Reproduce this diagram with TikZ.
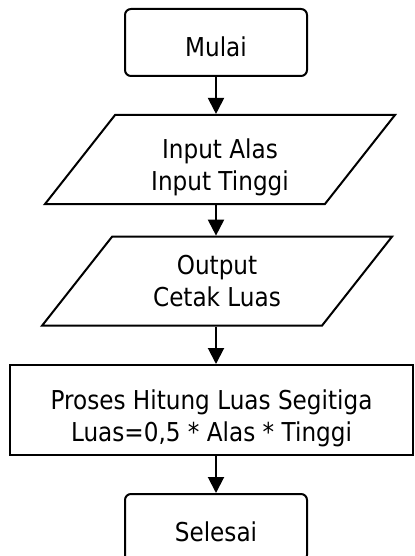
\documentclass[tikz,border=0pt]{standalone}
\usepackage{fontspec}
\setmainfont{DejaVu Sans}[FakeStretch=0.89]
\usetikzlibrary{shapes.geometric}
\usetikzlibrary{arrows.meta}

\begin{document}
\begin{tikzpicture}[x=0.75pt, y=-0.75pt,
	font=\fontsize{19.5}{24}\selectfont,
	terminal/.style={rectangle, rounded corners=4.5pt, draw, line width=1.5pt, minimum width=136.5pt, minimum height=50.25pt, text height=21pt, text depth=0pt},
	io/.style={trapezium, trapezium left angle=51.8, trapezium right angle=128.2, trapezium stretches body, draw, line width=1.5pt, minimum width=262.5pt, minimum height=66.75pt, align=center, text depth=0pt},
	process/.style={rectangle, draw, line width=1.5pt, minimum width=302.25pt, minimum height=67.5pt, align=center, text height=47.2pt, text depth=0pt},
	flow/.style={line width=1.5pt, -{Triangle[length=12pt, width=12pt]}}]

	\useasboundingbox (0,0) rectangle (414,556);

	\node (M) [terminal] at (216,42.5) {Mulai};
	\node (I) [io, text height=47.2pt, inner ysep=9.8pt] at (220,159.5) {Input Alas\\Input Tinggi};
	\node (O) [io, text height=38.2pt, inner ysep=14.3pt] at (217,281.2) {Output\\Cetak Luas};
	\node (P) [process] at (211.5,410) {Proses Hitung Luas Segitiga\\Luas=0,5 * Alas * Tinggi};
	\node (S) [terminal] at (216,527.5) {Selesai};

	\draw [flow] (M.south) to (M.south |- I.north);
	\draw [flow] (I.south -| M) to (M |- O.north);
	\draw [flow] (O.south -| M) to (M |- P.north);
	\draw [flow] (P.south -| M) to (S.north);

\end{tikzpicture}
\end{document}
